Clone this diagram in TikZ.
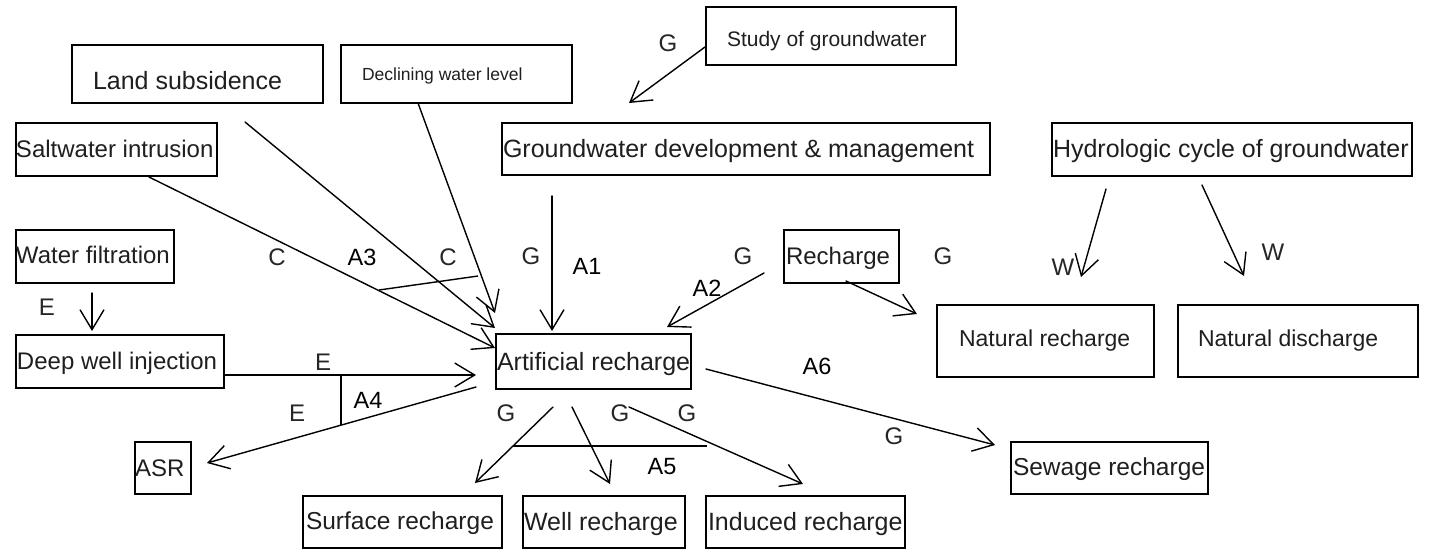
\documentclass[tikz,border=0pt]{standalone}
\usepackage{fontspec}
\setmainfont{Liberation Sans}
\usetikzlibrary{arrows.meta}
% fixed-width box content with a left indent
\newcommand{\padtext}[3]{\makebox[#1][l]{\hspace*{#2}#3}}

\begin{document}
\begin{tikzpicture}[x=1pt,y=-1pt,
  gbox/.style={draw, line width=2pt, inner sep=0pt, text depth=0pt,
    font=\fontsize{25}{28}\selectfont, text=black!88},
  small/.style={font=\fontsize{24}{28}\selectfont},
  conn/.style={line width=1.4pt, line cap=round, -{Straight Barb[length=20pt,width=24pt]}},
  crossbar/.style={line width=1.4pt},
  lbl/.style={inner sep=0pt, font=\fontsize{24}{28}\selectfont, text=black!85},
  alab/.style={inner sep=0pt, font=\fontsize{23.5}{26}\selectfont, text=black}]

\fill[white] (0,0) rectangle (1431,550);
\useasboundingbox (0,0) rectangle (1431,550);

% ---- boxes ----
\node[gbox, minimum width=250pt, minimum height=58pt, text height=20pt,
  font=\fontsize{21}{24}\selectfont] (study) at (831,36) {\padtext{250pt}{21pt}{Study of groundwater}};
\node[gbox, minimum width=251pt, minimum height=58pt, text height=30pt] (land) at (197.5,74) {\padtext{251pt}{21pt}{Land subsidence}};
\node[gbox, minimum width=231pt, minimum height=58pt, text height=12pt,
  font=\fontsize{17.5}{20}\selectfont] (decl) at (456.5,74) {\padtext{231pt}{21pt}{Declining water level}};
\node[gbox, small, minimum width=201pt, minimum height=53pt, text height=15pt] (salt) at (116.5,149.5) {\padtext{201pt}{0pt}{Saltwater intrusion}};
\node[gbox, minimum width=488pt, minimum height=52pt, text height=16pt] (gdm) at (746,149) {\padtext{488pt}{1pt}{Groundwater development \& management}};
\node[gbox, minimum width=360pt, minimum height=53pt, text height=15pt] (hydro) at (1232,149.5) {\padtext{360pt}{1pt}{Hydrologic cycle of groundwater}};
\node[gbox, small, minimum width=158pt, minimum height=53pt, text height=13pt] (filt) at (95,256.5) {\padtext{158pt}{0pt}{Water filtration}};
\node[gbox, small, minimum width=115pt, minimum height=53pt, text height=15pt] (rech) at (841.5,256.5) {\padtext{115pt}{2pt}{Recharge}};
\node[gbox, small, minimum width=208pt, minimum height=53pt, text height=15pt] (deep) at (120,361.5) {\padtext{208pt}{1pt}{Deep well injection}};
\node[gbox, minimum width=195pt, minimum height=55pt, text height=17pt] (ar) at (593.5,361.5) {\padtext{195pt}{1pt}{Artificial recharge}};
\node[gbox, minimum width=217pt, minimum height=72pt, text height=10pt,
  font=\fontsize{23}{26}\selectfont] (natrech) at (1045.5,341) {\padtext{217pt}{22pt}{Natural recharge}};
\node[gbox, minimum width=240pt, minimum height=72pt, text height=10pt,
  font=\fontsize{23}{26}\selectfont] (natdis) at (1298,341) {\padtext{240pt}{20pt}{Natural discharge}};
\node[gbox, small, minimum width=56pt, minimum height=52pt, text height=16pt] (asr) at (163,468) {\padtext{56pt}{0pt}{ASR}};
\node[gbox, minimum width=197pt, minimum height=52pt, text height=14pt,
  font=\fontsize{24.5}{28}\selectfont] (sewage) at (1109.5,468) {\padtext{197pt}{2pt}{Sewage recharge}};
\node[gbox, minimum width=199pt, minimum height=52pt, text height=14pt,
  font=\fontsize{24.5}{28}\selectfont] (surface) at (402.5,522) {\padtext{199pt}{3pt}{Surface recharge}};
\node[gbox, minimum width=162pt, minimum height=52pt, text height=16pt] (well) at (604,522) {\padtext{162pt}{1pt}{Well recharge}};
\node[gbox, minimum width=199pt, minimum height=52pt, text height=16pt] (induced) at (805.5,522) {\padtext{199pt}{2pt}{Induced recharge}};

% ---- connector end points ----
\coordinate (studyO) at (705,47);   \coordinate (gdmI) at (629,103);
\coordinate (landO) at (245,122);   \coordinate (arI1) at (495,328);
\coordinate (declO) at (418,103);   \coordinate (arI2) at (495,313);
\coordinate (saltO) at (149,177);   \coordinate (arI3) at (495,348);
\coordinate (gdmO) at (552,196);    \coordinate (arI4) at (552,331);
\coordinate (rechO1) at (764,273);  \coordinate (arI5) at (667,327);
\coordinate (rechO2) at (846,281);  \coordinate (natrechI1) at (917,314);
\coordinate (hydroO1) at (1106,189); \coordinate (natrechI2) at (1081,277);
\coordinate (hydroO2) at (1202,185); \coordinate (natdisI) at (1244,276);
\coordinate (filtO) at (92,293);    \coordinate (deepI) at (92,331);
\coordinate (deepO) at (224,375);   \coordinate (arI6) at (476,375);
\coordinate (arO1) at (476,387);    \coordinate (asrI) at (207,463);
\coordinate (arO2) at (553,407);    \coordinate (surfaceI) at (475,483);
\coordinate (arO3) at (572,407);    \coordinate (wellI) at (610,484);
\coordinate (arO4) at (629,407);    \coordinate (inducedI) at (803,484);
\coordinate (arO5) at (706,369);    \coordinate (sewageI) at (995,445);

% ---- connectors ----
\draw[conn] (studyO) -- (gdmI);
\draw[conn] (landO) -- (arI1);
\draw[conn] (declO) -- (arI2);
\draw[conn] (saltO) -- (arI3);
\draw[conn] (gdmO) -- (arI4);
\draw[conn] (rechO1) -- (arI5);
\draw[conn] (rechO2) -- (natrechI1);
\draw[conn] (hydroO1) -- (natrechI2);
\draw[conn] (hydroO2) -- (natdisI);
\draw[conn] (filtO) -- (deepI);
\draw[conn] (deepO) -- (arI6);
\draw[conn] (arO1) -- (asrI);
\draw[conn] (arO2) -- (surfaceI);
\draw[conn] (arO3) -- (wellI);
\draw[conn] (arO4) -- (inducedI);
\draw[conn] (arO5) -- (sewageI);

% ---- group bars ----
\coordinate (a3L) at (379,290); \coordinate (a3R) at (478,276);
\coordinate (a4T) at (341,375); \coordinate (a4B) at (341,425);
\coordinate (a5L) at (513,446); \coordinate (a5R) at (707,446);
\draw[crossbar] (a3L) -- (a3R);
\draw[crossbar] (a4T) -- (a4B);
\draw[crossbar] (a5L) -- (a5R);

% ---- letter labels ----
\node[lbl] (gS) at (668,43) {G};
\node[lbl] (c1) at (277,257) {C};
\node[lbl] (c2) at (448,257) {C};
\node[lbl] (g1) at (531,256) {G};
\node[lbl] (g2) at (743,256) {G};
\node[lbl] (g3) at (943,256) {G};
\node[lbl] (w1) at (1063,267) {W};
\node[lbl] (w2) at (1273,252) {W};
\node[lbl] (e1) at (47,307) {E};
\node[lbl] (e2) at (323,362) {E};
\node[lbl] (e3) at (297,413) {E};
\node[lbl] (g4) at (506,413) {G};
\node[lbl] (g5) at (620,413) {G};
\node[lbl] (g6) at (687,413) {G};
\node[lbl] (g7) at (894,436) {G};

\node[alab] (a1) at (587,266) {A1};
\node[alab] (a2) at (707,288) {A2};
\node[alab] (a3) at (362,257) {A3};
\node[alab] (a4) at (368,400) {A4};
\node[alab] (a5) at (662,467) {A5};
\node[alab] (a6) at (817,366) {A6};
\end{tikzpicture}
\end{document}
